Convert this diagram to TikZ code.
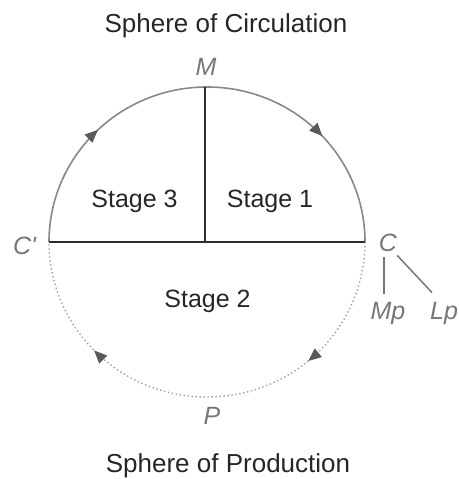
\documentclass[tikz,border=0pt]{standalone}
\usepackage{fontspec}
\setmainfont{Liberation Sans}
\usetikzlibrary{arrows.meta,decorations.markings}
\definecolor{labgray}{HTML}{777777}
\definecolor{arcgray}{HTML}{888888}
\definecolor{dotgray}{HTML}{A0A0A0}
\definecolor{tipgray}{HTML}{5A5A5A}
\definecolor{linedark}{HTML}{2E2E2E}
\begin{document}
\begin{tikzpicture}[x=1pt,y=1pt,
  lbl/.style={font=\fontsize{25}{30}\selectfont\itshape, text=labgray, inner sep=0pt, anchor=base},
  big/.style={font=\fontsize{26}{30}\selectfont, text=black!85, inner sep=0pt, anchor=base},
  stagetxt/.style={font=\fontsize{25}{30}\selectfont, text=black!85, inner sep=0pt, anchor=base},
  upperarc/.style={draw=arcgray, line width=1.6pt, postaction={decorate},
    decoration={markings,
      mark=at position 0.256 with {\arrow[tipgray]{Triangle[length=13pt,width=11pt]}},
      mark=at position 0.762 with {\arrow[tipgray]{Triangle[length=13pt,width=11pt]}}}},
  lowerarc/.style={draw=dotgray, line width=1.4pt, dash pattern=on 1.4pt off 2.6pt, postaction={decorate},
    decoration={markings,
      mark=at position 0.277 with {\arrow[tipgray]{Triangle[length=13pt,width=11pt]}},
      mark=at position 0.755 with {\arrow[tipgray]{Triangle[length=13pt,width=11pt]}}}},
  inner/.style={draw=linedark, line width=2pt},
  conn/.style={draw=labgray, line width=1.5pt}
]
\useasboundingbox (0,0) rectangle (458,479);
\coordinate (O) at (207,237);
\coordinate (Lft) at (49,237);
\coordinate (Rgt) at (365,237);
\coordinate (Top) at (205,392);
\coordinate (Mid) at (205,237);
% arcs
\path[upperarc] (Lft) arc[start angle=180, end angle=0, x radius=158, y radius=155];
\path[lowerarc] (Rgt) arc[start angle=0, end angle=-180, x radius=158, y radius=155];
% inner lines
\draw[inner] (Lft) -- (Rgt);
\draw[inner] (Top) -- (Mid);
% titles
\node[big] (circ) at (226,446) {Sphere of Circulation};
\node[big] (prod) at (228,6) {Sphere of Production};
% stages
\node[stagetxt] (s3) at (134.5,271) {Stage 3};
\node[stagetxt] (s1) at (270,271) {Stage 1};
\node[stagetxt] (s2) at (207.5,171) {Stage 2};
% letters
\node[lbl] (M) at (206,403) {M};
\node[lbl] (Cp) at (24.5,224) {C\textquotesingle};
\node[lbl] (C) at (388,227) {C};
\node[lbl] (Mp) at (388,159) {Mp};
\node[lbl, anchor=base west] (Lp) at (430,159) {Lp};
\node[lbl] (P) at (212,54) {P};
% connectors
\draw[conn] ([xshift=-4pt,yshift=-5pt]C.south) -- ([xshift=-4pt,yshift=9pt]Mp.north);
\draw[conn] ([xshift=0pt,yshift=-3pt]C.south east) -- ([xshift=2pt,yshift=10pt]Lp.north west);
\end{tikzpicture}
\end{document}
